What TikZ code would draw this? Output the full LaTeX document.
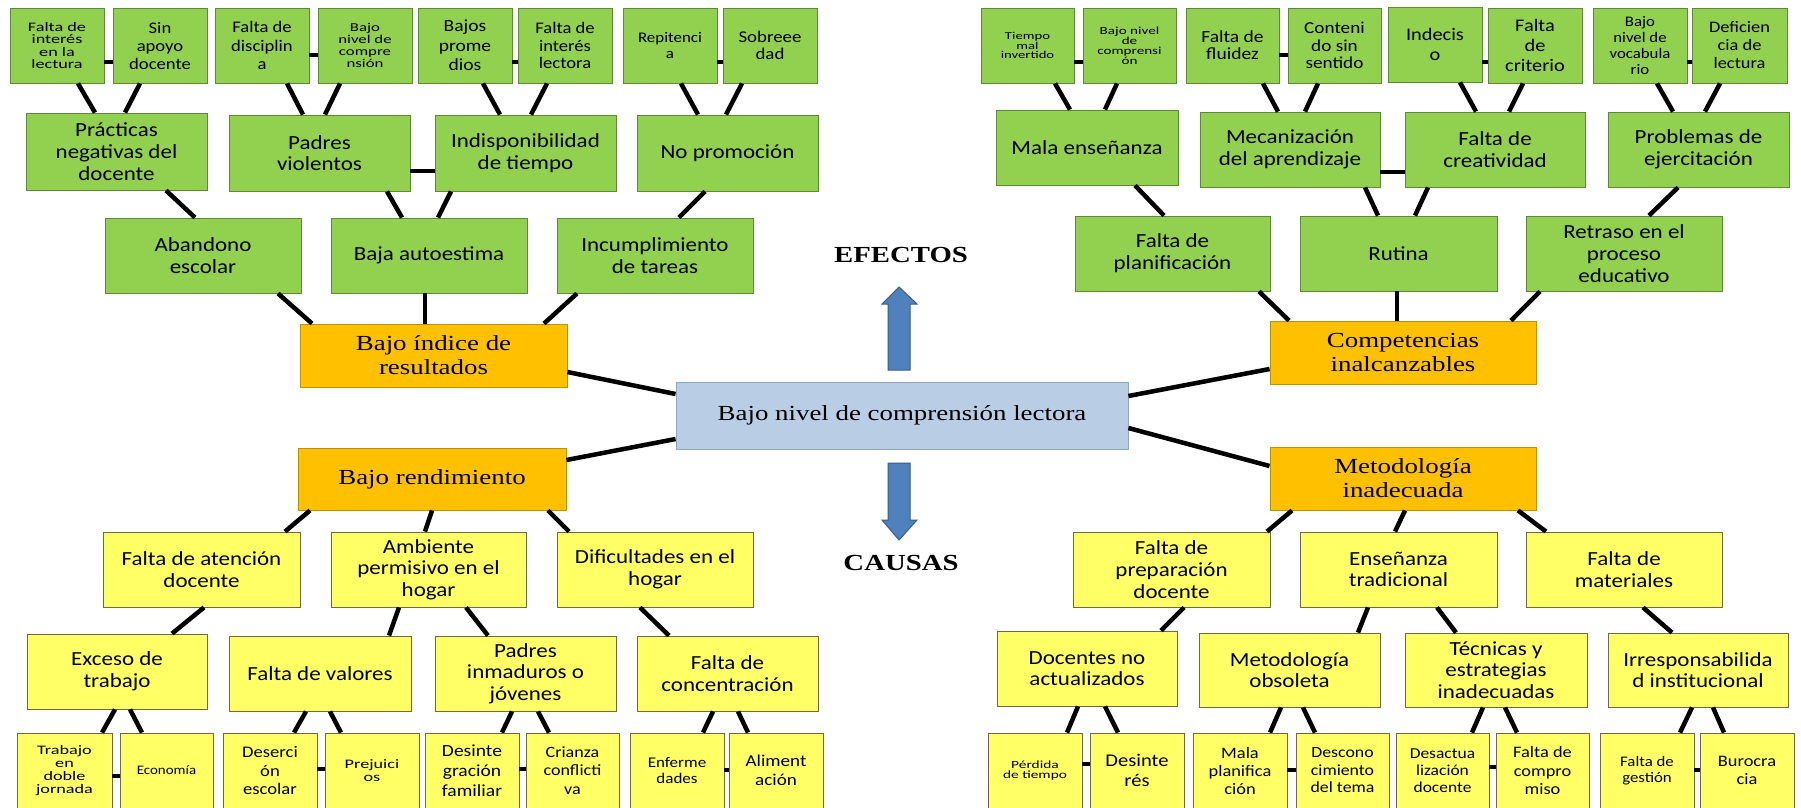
\documentclass[tikz,border=0pt]{standalone}
\usepackage{fontspec}
\newfontfamily\cA[FakeStretch=1.15]{Carlito}
\newfontfamily\cB[FakeStretch=1.4]{Carlito}
\newfontfamily\tms[FakeStretch=1.25]{Liberation Serif}
\newcommand{\fs}[2]{\fontsize{#1}{#2}\selectfont}
\definecolor{gfill}{HTML}{92D050}
\definecolor{gline}{HTML}{5E8A35}
\definecolor{yfill}{HTML}{FFFF66}
\definecolor{yline}{HTML}{6B6B45}
\definecolor{ofill}{HTML}{FFC000}
\definecolor{oline}{HTML}{BF9000}
\definecolor{cfill}{HTML}{B9CDE5}
\definecolor{cline}{HTML}{8EA6C4}
\definecolor{afill}{HTML}{4F81BD}
\definecolor{aline}{HTML}{385D8A}
\newcommand{\bx}[7]{%
 \pgfmathsetmacro{\bw}{#4-#2}\pgfmathsetmacro{\bh}{#5-#3}%
 \pgfmathsetmacro{\bcx}{(#2+#4)/2}\pgfmathsetmacro{\bcy}{(#3+#5)/2}%
 \node[#6, minimum width=\bw pt, minimum height=\bh pt] (#1) at (\bcx,\bcy) {#7};}
\tikzset{
 box/.style={draw, line width=0.9pt, inner sep=0pt, align=center},
 gbox/.style={box, fill=gfill, draw=gline, font=\cA\fs{20}{21.7}},
 ybox/.style={box, fill=yfill, draw=yline, font=\cA\fs{20}{21.7}},
 obox/.style={box, fill=ofill, draw=oline, font=\tms\fs{21.5}{24}},
 cbox/.style={box, fill=cfill, draw=cline, font=\tms\fs{21.5}{24}},
 link/.style={line width=4.5pt, black},
 bigarrow/.style={fill=afill, draw=aline, line width=1pt, line join=miter},
 title/.style={font=\tms\bfseries\fs{23}{26}, inner sep=0pt}
}
\begin{document}
\begin{tikzpicture}[x=1pt,y=-1pt]
\clip (0,0) rectangle (1801,807);
\fill[white] (0,0) rectangle (1801,807);
% ---------- top-left leaves
\bx{tl1}{10}{8}{104}{83}{gbox, font=\cB\fs{13}{12.5}}{Falta de\\interés\\en la\\lectura}
\bx{tl2}{113}{8}{207}{83}{gbox, font=\cA\fs{16.2}{18}}{Sin\\apoyo\\docente}
\bx{tl3}{215}{8}{309}{83}{gbox, font=\cA\fs{16.2}{18.3}}{Falta de\\disciplin\\a}
\bx{tl4}{318}{8}{412}{83}{gbox, font=\cB\fs{12}{12}}{Bajo\\nivel de\\compre\\nsión}
\bx{tl5}{418}{8}{512}{83}{gbox, font=\cA\fs{17}{19.5}}{Bajos\\prome\\dios}
\bx{tl6}{518}{8}{612}{83}{gbox, font=\cA\fs{16.2}{17.5}}{Falta de\\interés\\lectora}
\bx{tl7}{623}{8}{717}{83}{gbox, font=\cA\fs{14.7}{16.7}}{Repitenci\\a}
\bx{tl8}{723}{8}{817}{83}{gbox, font=\cA\fs{16.4}{16.7}}{Sobreee\\dad}
% ---------- top-left mid
\bx{tm1}{26}{113}{207}{190}{gbox}{Prácticas\\negativas del\\docente}
\bx{tm2}{229}{115}{410}{191}{gbox}{Padres\\violentos}
\bx{tm3}{435}{115}{616}{191}{gbox}{Indisponibilidad\\de tiempo}
\bx{tm4}{637}{115}{818}{191}{gbox}{No promoción}
% ---------- top-left row 3
\bx{tr1}{105}{218}{301}{293}{gbox}{Abandono\\escolar}
\bx{tr2}{331}{218}{527}{293}{gbox}{Baja autoestima}
\bx{tr3}{557}{218}{753}{293}{gbox}{Incumplimiento\\de tareas}
% ---------- orange + centre
\bx{oL1}{300}{324}{567}{387}{obox}{Bajo índice de\\resultados}
\bx{oL2}{298}{448}{566}{510}{obox}{Bajo rendimiento}
\bx{oR1}{1270}{321}{1536}{384}{obox}{Competencias\\inalcanzables}
\bx{oR2}{1270}{447}{1536}{510}{obox}{Metodología\\inadecuada}
\bx{C}{676}{382}{1128}{449}{cbox}{Bajo nivel de comprensión lectora}
% ---------- top-right leaves
\bx{trl1}{981}{8}{1074}{83}{gbox, font=\cB\fs{10.5}{9.5}}{Tiempo\\mal\\invertido}
\bx{trl2}{1083}{8}{1176}{83}{gbox, font=\cB\fs{10.8}{10}}{Bajo nivel\\de\\comprensi\\ón}
\bx{trl3}{1186}{8}{1279}{83}{gbox, font=\cA\fs{17}{17}}{Falta de\\fluidez}
\bx{trl4}{1288}{8}{1381}{83}{gbox, font=\cA\fs{16.7}{17.5}}{Conteni\\do sin\\sentido}
\bx{trl5}{1388}{7}{1482}{82}{gbox, font=\cA\fs{17.7}{20}}{Indecis\\o}
\bx{trl6}{1488}{8}{1582}{83}{gbox, font=\cA\fs{17.7}{20}}{Falta\\de\\criterio}
\bx{trl7}{1593}{8}{1687}{83}{gbox, font=\cA\fs{14.6}{16}}{Bajo\\nivel de\\vocabula\\rio}
\bx{trl8}{1692}{8}{1787}{83}{gbox, font=\cA\fs{16}{18}}{Deficien\\cia de\\lectura}
% ---------- top-right mid
\bx{trm1}{996}{110}{1178}{185}{gbox}{Mala enseñanza}
\bx{trm2}{1200}{112}{1380}{187}{gbox}{Mecanización\\del aprendizaje}
\bx{trm3}{1405}{112}{1585}{187}{gbox}{Falta de\\creatividad}
\bx{trm4}{1608}{112}{1789}{187}{gbox}{Problemas de\\ejercitación}
% ---------- top-right row 3
\bx{trr1}{1075}{216}{1270}{291}{gbox}{Falta de\\planificación}
\bx{trr2}{1300}{216}{1497}{291}{gbox}{Rutina}
\bx{trr3}{1526}{216}{1722}{291}{gbox}{Retraso en el\\proceso\\educativo}
% ---------- bottom-left row 3
\bx{bl1}{103}{532}{300}{607}{ybox}{Falta de atención\\docente}
\bx{bl2}{331}{532}{526}{607}{ybox}{Ambiente\\permisivo en el\\hogar}
\bx{bl3}{557}{532}{753}{607}{ybox}{Dificultades en el\\hogar}
% ---------- bottom-left row 4
\bx{b4l1}{27}{634}{207}{709}{ybox}{Exceso de\\trabajo}
\bx{b4l2}{229}{636}{411}{711}{ybox}{Falta de valores}
\bx{b4l3}{435}{636}{616}{711}{ybox}{Padres\\inmaduros o\\jóvenes}
\bx{b4l4}{637}{636}{818}{711}{ybox}{Falta de\\concentración}
% ---------- bottom-left leaves
\bx{bll1}{17}{733}{112}{808}{ybox, font=\cB\fs{13}{13}}{Trabajo\\en\\doble\\jornada}
\bx{bll2}{120}{733}{213}{808}{ybox, font=\cA\fs{13}{14}}{Economía}
\bx{bll3}{223}{733}{317}{808}{ybox, font=\cA\fs{16.2}{18.3}}{Deserci\\ón\\escolar}
\bx{bll4}{325}{733}{419}{808}{ybox, font=\cB\fs{13}{13}}{Prejuici\\os}
\bx{bll5}{425}{733}{519}{808}{ybox, font=\cA\fs{17}{20}}{Desinte\\gración\\familiar}
\bx{bll6}{526}{733}{619}{808}{ybox, font=\cA\fs{15.7}{18.7}}{Crianza\\conflicti\\va}
\bx{bll7}{630}{733}{724}{808}{ybox, font=\cA\fs{14.8}{16}}{Enferme\\dades}
\bx{bll8}{729}{733}{823}{808}{ybox, font=\cA\fs{16.6}{18.7}}{Aliment\\ación}
% ---------- bottom-right row 3
\bx{br1}{1073}{532}{1270}{607}{ybox}{Falta de\\preparación\\docente}
\bx{br2}{1300}{532}{1497}{607}{ybox}{Enseñanza\\tradicional}
\bx{br3}{1526}{532}{1722}{607}{ybox}{Falta de\\materiales}
% ---------- bottom-right row 4
\bx{b4r1}{997}{631}{1177}{706}{ybox}{Docentes no\\actualizados}
\bx{b4r2}{1199}{633}{1380}{707}{ybox}{Metodología\\obsoleta}
\bx{b4r3}{1405}{633}{1587}{707}{ybox}{Técnicas y\\estrategias\\inadecuadas}
\bx{b4r4}{1608}{633}{1788}{707}{ybox}{Irresponsabilida\\d institucional}
% ---------- bottom-right leaves
\bx{brl1}{988}{733}{1082}{808}{ybox, font=\cB\fs{11}{10}}{Pérdida\\de tiempo}
\bx{brl2}{1090}{733}{1184}{808}{ybox, font=\cA\fs{17.9}{20}}{Desinte\\rés}
\bx{brl3}{1193}{733}{1287}{808}{ybox, font=\cA\fs{16}{18}}{Mala\\planifica\\ción}
\bx{brl4}{1296}{733}{1389}{808}{ybox, font=\cA\fs{15.5}{17.5}}{Descono\\cimiento\\del tema}
\bx{brl5}{1396}{733}{1489}{808}{ybox, font=\cA\fs{15.2}{16.7}}{Desactua\\lización\\docente}
\bx{brl6}{1496}{733}{1589}{808}{ybox, font=\cA\fs{16}{18.3}}{Falta de\\compro\\miso}
\bx{brl7}{1600}{733}{1694}{808}{ybox, font=\cA\fs{14.6}{16}}{Falta de\\gestión}
\bx{brl8}{1700}{733}{1794}{808}{ybox, font=\cA\fs{16}{17.7}}{Burocra\\cia}
% ---------- titles
\node[title] (ef) at (901,255) {EFECTOS};
\node[title] (ca) at (901,563) {CAUSAS};
% ---------- arrows
\draw[bigarrow] (888,370) -- (888,304) -- (882,304) -- (899,287) -- (917,304) -- (910,304) -- (910,370) -- cycle;
\draw[bigarrow] (888,463) -- (910,463) -- (910,520) -- (917,520) -- (899,540) -- (882,520) -- (888,520) -- cycle;
% ---------- connectors top-left
\draw[link] (tl1.south -| 78,0) -- (tm1.north -| 95,0);
\draw[link] (tl2.south -| 140,0) -- (tm1.north -| 125,0);
\draw[link] (tl3.south -| 287,0) -- (tm2.north -| 303,0);
\draw[link] (tl4.south -| 340,0) -- (tm2.north -| 325,0);
\draw[link] (tl5.south -| 483,0) -- (tm3.north -| 500,0);
\draw[link] (tl6.south -| 547,0) -- (tm3.north -| 531,0);
\draw[link] (tl7.south -| 681,0) -- (tm4.north -| 698,0);
\draw[link] (tl8.south -| 742,0) -- (tm4.north -| 726,0);
\draw[link] (tl1.east |- 0,62) -- (tl2.west |- 0,62);
\draw[link] (tl3.east |- 0,55) -- (tl4.west |- 0,55);
\draw[link] (tl5.east |- 0,62) -- (tl6.west |- 0,62);
\draw[link] (tl7.east |- 0,62) -- (tl8.west |- 0,62);
\draw[link] (tm2.east |- 0,171) -- (tm3.west |- 0,171);
\draw[link] (tm1.south -| 166,0) -- (tr1.north -| 195,0);
\draw[link] (tm2.south -| 387,0) -- (tr2.north -| 402,0);
\draw[link] (tm3.south -| 451,0) -- (tr2.north -| 438,0);
\draw[link] (tm4.south -| 705,0) -- (tr3.north -| 679,0);
\draw[link] (tr1.south -| 278,0) -- (oL1.north -| 312,0);
\draw[link] (tr2.south -| 425,0) -- (oL1.north -| 425,0);
\draw[link] (tr3.south -| 577,0) -- (oL1.north -| 544,0);
\draw[link] (oL1.east |- 0,372) -- (C.west |- 0,394);
\draw[link] (oL2.east |- 0,460) -- (C.west |- 0,439);
% ---------- connectors top-right
\draw[link] (trl1.south -| 1055,0) -- (trm1.north -| 1070,0);
\draw[link] (trl2.south -| 1117,0) -- (trm1.north -| 1105,0);
\draw[link] (trl3.south -| 1263,0) -- (trm2.north -| 1278,0);
\draw[link] (trl4.south -| 1318,0) -- (trm2.north -| 1305,0);
\draw[link] (trl5.south -| 1460,0) -- (trm3.north -| 1476,0);
\draw[link] (trl6.south -| 1523,0) -- (trm3.north -| 1509,0);
\draw[link] (trl7.south -| 1657,0) -- (trm4.north -| 1673,0);
\draw[link] (trl8.south -| 1720,0) -- (trm4.north -| 1705,0);
\draw[link] (trl1.east |- 0,62) -- (trl2.west |- 0,62);
\draw[link] (trl3.east |- 0,55) -- (trl4.west |- 0,55);
\draw[link] (trl5.east |- 0,62) -- (trl6.west |- 0,62);
\draw[link] (trl7.east |- 0,62) -- (trl8.west |- 0,62);
\draw[link] (trm2.east |- 0,172) -- (trm3.west |- 0,172);
\draw[link] (trm1.south -| 1135,0) -- (trr1.north -| 1164,0);
\draw[link] (trm2.south -| 1365,0) -- (trr2.north -| 1378,0);
\draw[link] (trm3.south -| 1428,0) -- (trr2.north -| 1415,0);
\draw[link] (trm4.south -| 1678,0) -- (trr3.north -| 1649,0);
\draw[link] (trr1.south -| 1259,0) -- (oR1.north -| 1289,0);
\draw[link] (trr2.south -| 1397,0) -- (oR1.north -| 1397,0);
\draw[link] (trr3.south -| 1540,0) -- (oR1.north -| 1511,0);
\draw[link] (C.east |- 0,396) -- (oR1.west |- 0,369);
\draw[link] (C.east |- 0,428) -- (oR2.west |- 0,466);
% ---------- connectors bottom-left
\draw[link] (oL2.south -| 310,0) -- (bl1.north -| 285,0);
\draw[link] (oL2.south -| 432,0) -- (bl2.north -| 425,0);
\draw[link] (oL2.south -| 548,0) -- (bl3.north -| 569,0);
\draw[link] (bl1.south -| 204,0) -- (b4l1.north -| 172,0);
\draw[link] (bl2.south -| 399,0) -- (b4l2.north -| 389,0);
\draw[link] (bl2.south -| 466,0) -- (b4l3.north -| 488,0);
\draw[link] (bl3.south -| 640,0) -- (b4l4.north -| 669,0);
\draw[link] (b4l1.south -| 115,0) -- (bll1.north -| 102,0);
\draw[link] (b4l1.south -| 130,0) -- (bll2.north -| 142,0);
\draw[link] (b4l2.south -| 306,0) -- (bll3.north -| 294,0);
\draw[link] (b4l2.south -| 330,0) -- (bll4.north -| 341,0);
\draw[link] (b4l3.south -| 512,0) -- (bll5.north -| 502,0);
\draw[link] (b4l3.south -| 538,0) -- (bll6.north -| 549,0);
\draw[link] (b4l4.south -| 713,0) -- (bll7.north -| 703,0);
\draw[link] (b4l4.south -| 738,0) -- (bll8.north -| 748,0);
\draw[link] (bll1.east |- 0,776) -- (bll2.west |- 0,776);
\draw[link] (bll3.east |- 0,769) -- (bll4.west |- 0,769);
\draw[link] (bll5.east |- 0,769) -- (bll6.west |- 0,769);
\draw[link] (bll7.east |- 0,770) -- (bll8.west |- 0,770);
% ---------- connectors bottom-right
\draw[link] (oR2.south -| 1292,0) -- (br1.north -| 1267,0);
\draw[link] (oR2.south -| 1405,0) -- (br2.north -| 1395,0);
\draw[link] (oR2.south -| 1518,0) -- (br3.north -| 1546,0);
\draw[link] (br1.south -| 1184,0) -- (b4r1.north -| 1161,0);
\draw[link] (br2.south -| 1368,0) -- (b4r2.north -| 1358,0);
\draw[link] (br2.south -| 1437,0) -- (b4r3.north -| 1456,0);
\draw[link] (br3.south -| 1643,0) -- (b4r4.north -| 1672,0);
\draw[link] (b4r1.south -| 1078,0) -- (brl1.north -| 1067,0);
\draw[link] (b4r1.south -| 1105,0) -- (brl2.north -| 1118,0);
\draw[link] (b4r2.south -| 1281,0) -- (brl3.north -| 1270,0);
\draw[link] (b4r2.south -| 1303,0) -- (brl4.north -| 1315,0);
\draw[link] (b4r3.south -| 1483,0) -- (brl5.north -| 1472,0);
\draw[link] (b4r3.south -| 1505,0) -- (brl6.north -| 1517,0);
\draw[link] (b4r4.south -| 1692,0) -- (brl7.north -| 1680,0);
\draw[link] (b4r4.south -| 1713,0) -- (brl8.north -| 1724,0);
\draw[link] (brl1.east |- 0,764) -- (brl2.west |- 0,764);
\draw[link] (brl3.east |- 0,770) -- (brl4.west |- 0,770);
\draw[link] (brl5.east |- 0,767) -- (brl6.west |- 0,767);
\draw[link] (brl7.east |- 0,770) -- (brl8.west |- 0,770);
\end{tikzpicture}
\end{document}
